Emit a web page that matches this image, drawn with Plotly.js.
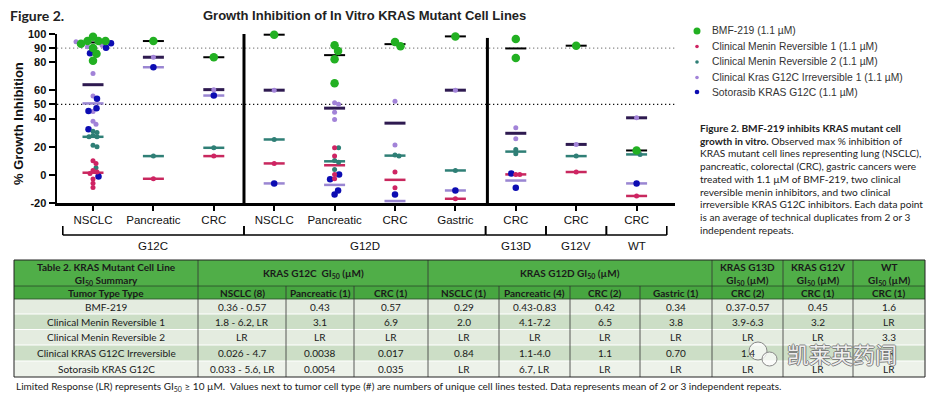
<!DOCTYPE html>
<html><head><meta charset="utf-8">
<script src="https://cdn.plot.ly/plotly-3.0.1.min.js"></script>
<style>html,body{margin:0;padding:0;background:#fff;}</style>
</head><body><div id="chart" style="width:929px;height:396px;"></div>
<script>
// ---------------- DATA ----------------
const categories = ['NSCLC','Pancreatic','CRC','NSCLC','Pancreatic','CRC','Gastric','CRC','CRC','CRC'];
const mutationGroups = ['G12C','G12D','G13D','G12V','WT'];
const groupFirstCat = [0,3,7,8,9];
const groupLastCat  = [2,6,7,8,9];
const yTicks = [-20,0,20,40,50,60,80,90,100];
const thresholdLines = [90,50];
const seriesNames = ['BMF-219 (1.1 µM)','Clinical Menin Reversible 1 (1.1 µM)','Clinical Menin Reversible 2 (1.1 µM)','Clinical Kras G12C Irreversible 1 (1.1 µM)','Sotorasib KRAS G12C (1.1 µM)'];
// % growth inhibition, one list per category column
const bmf219    = [[98,95,95,95,93,90,86,81],[95],[83.5],[99.5],[92,88,82,65],[94.3,91.3],[98.3],[96.5,83],[91.7],[17.3]];
const meninRev1 = [[10,8,3,2,1,-3,-6,-9],[-2.8],[13.3],[8.1],[19.2,13.3,0.3,-2.8],[2.0,-9.1],[-17],[0.3,0.3],[2.0],[-15]];
const meninRev2 = [[31,30,28,27,27,21,20,5],[13.3],[19.2],[25.1],[19.2,10.2,9.0,3.8],[14,13.3],[3.1],[18,15],[13.3],[14.5]];
const krasIrrev = [[94.5,92,91,72,56,45,38,36],[83.5],[60.5],[60.1],[51.1,50.2,44.5,39.3],[52.3,21.1],[60.1],[33.4,25.6],[21.6],[40.5]];
const sotorasib = [[93.4,90.3,86.3,54.1,47.3,45.4,32.4,-1.1],[76.4],[56.3],[-6.1],[0.3,-3.2,-13.9,-11.1],[-13.9,-23.3],[-11.1],[1.0,-9.1],[],[-6.1]];

// Table 2
const tableTitle = 'Table 2. KRAS Mutant Cell Line<br>GI<sub>50</sub> Summary';
const tableGroupHeaders = ['KRAS G12C  GI<sub>50</sub> (µM)','KRAS G12D GI<sub>50</sub> (µM)','KRAS G13D<br>GI<sub>50</sub> (µM)','KRAS G12V<br>GI<sub>50</sub> (µM)','WT<br>GI<sub>50</sub> (µM)'];
const tableSubHeaders = ['Tumor Type Type','NSCLC (8)','Pancreatic (1)','CRC (1)','NSCLC (1)','Pancreatic (4)','CRC (2)','Gastric (1)','CRC (2)','CRC (1)','CRC (1)'];
const tableRowLabels = ['BMF-219','Clinical Menin Reversible 1','Clinical Menin Reversible 2','Clinical KRAS G12C Irreversible','Sotorasib KRAS G12C'];
const tableValues = [
  ['0.36 - 0.57','0.43','0.57','0.29','0.43-0.83','0.42','0.34','0.37-0.57','0.45','1.6'],
  ['1.8 - 6.2, LR','3.1','6.9','2.0','4.1-7.2','6.5','3.8','3.9-6.3','3.2','LR'],
  ['LR','LR','LR','LR','LR','LR','LR','LR','LR','3.3'],
  ['0.026 - 4.7','0.0038','0.017','0.84','1.1-4.0','1.1','0.70','1.4','LR','LR'],
  ['0.033 - 5.6, LR','0.0054','0.035','LR','6.7, LR','LR','LR','LR','LR','LR']
];
const footnote = 'Limited Response (LR) represents GI<sub>50</sub> ≥ 10 µM.\u00a0 Values next to tumor cell type (#) are numbers of unique cell lines tested. Data represents mean of 2 or 3 independent repeats.';
const captionLines = [
  '<b>Figure 2. BMF-219 inhibits KRAS mutant cell</b>',
  '<b>growth in vitro.</b> Observed max % inhibition of',
  'KRAS mutant cell lines representing lung (NSCLC),',
  'pancreatic, colorectal (CRC), gastric cancers were',
  'treated with 1.1 µM of BMF-219, two clinical',
  'reversible menin inhibitors, and two clinical',
  'irreversible KRAS G12C inhibitors. Each data point',
  'is an average of technical duplicates from 2 or 3',
  'independent repeats.'
];

// ---------------- STYLE / LAYOUT ----------------
const W=929,H=396, ML=57, MR=254, MT=34, MB=193;
const plotW=W-ML-MR, plotH=H-MT-MB;
const xRange=[-0.596,9.636], yRange=[-20,100];
const pxPerX=plotW/(xRange[1]-xRange[0]), pxPerY=plotH/(yRange[1]-yRange[0]);
const ax = px => (px-ML)/plotW;
const ay = py => (H-MB-py)/plotH;
const seriesColors=['#22b022','#cf2463','#2f7f76','#a283d8','#0c0cb2'];
const medianColors=['#000000','#c8285e','#2f7f76','#2e1a50','#9a86d2'];
const medianWidths=[2,2.5,2.5,3,2.5];
const markerDiam=[8.5,5,5,5,6.5];
const legendDiam=[7,3.6,3.6,3.6,4.6];
const allSeries=[bmf219,meninRev1,meninRev2,krasIrrev,sotorasib];
const ARIAL='Liberation Sans, Arial, sans-serif';
const CAL='Lato, Carlito, sans-serif';

function median(a){const s=[...a].sort((p,q)=>p-q);const n=s.length;return n%2?s[(n-1)/2]:(s[n/2-1]+s[n/2])/2;}

// simple deterministic beeswarm per category column
const offsets=allSeries.map(s=>s.map(col=>col.map(()=>0)));
for(let c=0;c<categories.length;c++){
  const placed=[];
  allSeries.forEach((s,si)=>{
    (s[c]||[]).forEach((v,pi)=>{
      const r=markerDiam[si]/2, yp=v*pxPerY;
      let best=0;
      for(let k=0;k<400;k++){
        const cand=k===0?0:(k%2?1:-1)*Math.ceil(k/2)*0.5;
        if(placed.every(p=>Math.hypot(p.x-cand,p.y-yp)>=(p.r+r)*0.78)){best=cand;break;}
      }
      placed.push({x:best,y:yp,r});
      offsets[si][c][pi]=best/pxPerX;
    });
  });
}

const traces=[];
// median lines
allSeries.forEach((s,si)=>{
  const xs=[],ys=[];
  s.forEach((col,c)=>{ if(col.length){xs.push(c);ys.push(median(col));} });
  traces.push({type:'scatter',mode:'markers',x:xs,y:ys,showlegend:false,hoverinfo:'skip',
    cliponaxis: si===4,
    marker:{symbol:'line-ew',size:15,color:medianColors[si],line:{width:medianWidths[si],color:medianColors[si]}}});
});
// points
const drawOrder=[3,4,2,1,0];
drawOrder.forEach(si=>{
  const xs=[],ys=[];
  allSeries[si].forEach((col,c)=>col.forEach((v,pi)=>{xs.push(c+offsets[si][c][pi]);ys.push(v);}));
  traces.push({type:'scatter',mode:'markers',name:seriesNames[si],x:xs,y:ys,showlegend:false,
    cliponaxis: si===4,
    marker:{size:markerDiam[si],color:seriesColors[si],line:{width:0}}});
});

const shapes=[], ann=[];
// threshold dotted lines
thresholdLines.forEach((v,i)=>shapes.push({type:'line',xref:'paper',yref:'y',x0:0,x1:1,y0:v,y1:v,layer:'below',
  line:{color:i===0?'#8a8a8a':'#111',width:1.3,dash:'1.3px,2.7px'}}));
// group dividers
shapes.push({type:'line',xref:'x',yref:'y',x0:2.5,x1:2.5,y0:-20,y1:101.4,line:{color:'#000',width:3}});
shapes.push({type:'line',xref:'x',yref:'y',x0:6.53,x1:6.53,y0:-20,y1:97.2,line:{color:'#000',width:3}});
// group brackets
const brY=235, brTop=226;
groupFirstCat.forEach((a,gi)=>{
  const b=groupLastCat[gi];
  const x0=a-0.5, x1=b+0.5;
  shapes.push({type:'line',xref:'x',yref:'paper',x0:x0,x1:x1,y0:ay(brY),y1:ay(brY),line:{color:'#000',width:1.6}});
  shapes.push({type:'line',xref:'x',yref:'paper',x0:x0,x1:x0,y0:ay(brY),y1:ay(brTop),line:{color:'#000',width:1.6}});
  shapes.push({type:'line',xref:'x',yref:'paper',x0:x1,x1:x1,y0:ay(brY),y1:ay(brTop),line:{color:'#000',width:1.6}});
  ann.push({xref:'x',yref:'paper',x:(a+b)/2,y:ay(246.5),text:mutationGroups[gi],showarrow:false,
    xanchor:'center',yanchor:'middle',font:{family:ARIAL,size:11.5,color:'#111'}});
});

// titles
ann.push({xref:'paper',yref:'paper',x:ax(8),y:ay(15),xanchor:'left',yanchor:'middle',showarrow:false,
  text:'<b>Figure 2.</b>',font:{family:CAL,size:14,color:'#222'}});
ann.push({xref:'paper',yref:'paper',x:ax(364),y:ay(15),xanchor:'center',yanchor:'middle',showarrow:false,
  text:'<b>Growth Inhibition of In Vitro KRAS Mutant Cell Lines</b>',font:{family:ARIAL,size:13,color:'#222'}});
ann.push({xref:'paper',yref:'paper',x:ax(18),y:ay(124),xanchor:'center',yanchor:'middle',showarrow:false,textangle:-90,
  text:'<b>% Growth Inhibition</b>',font:{family:ARIAL,size:13,color:'#111'}});

// legend
const legY=[31,46.5,62,77.5,92];
seriesNames.forEach((n,i)=>{
  const r=legendDiam[i]/2;
  shapes.push({type:'circle',xref:'paper',yref:'paper',xsizemode:'pixel',ysizemode:'pixel',
    xanchor:ax(697),yanchor:ay(legY[i]),x0:-r,x1:r,y0:-r,y1:r,fillcolor:seriesColors[i],line:{width:0}});
  ann.push({xref:'paper',yref:'paper',x:ax(710),y:ay(legY[i]),xanchor:'left',yanchor:'middle',showarrow:false,
    text:n,font:{family:ARIAL,size:10.3,color:'#333'}});
});

// caption
const capY=[128,140.7,153.4,166.1,178.8,191.5,204.2,216.9,229.6];
captionLines.forEach((t,i)=>ann.push({xref:'paper',yref:'paper',x:ax(698),y:ay(capY[i]),xanchor:'left',yanchor:'middle',
  showarrow:false,text:t,font:{family:CAL,size:10.1,color:'#222'}}));

// table geometry
const colEdges=[14,198,286,354,428,499,570,640,712,783,853,925];
const rowEdges=[260,286,299,314,329.5,345,361,377];
const headFill1='#50ae48', headFill2='#47a640';
const bodyFills=['#e4ece0','#ccdec6','#e4ece0','#ccdec6','#edf2ea'];
const groupSpanCols=[[1,3],[4,7],[8,8],[9,9],[10,10]];
const rect=(x0,x1,y0,y1,fill,lc,lw)=>shapes.push({type:'rect',xref:'paper',yref:'paper',x0:ax(x0),x1:ax(x1),y0:ay(y1),y1:ay(y0),
  fillcolor:fill,line:{color:lc||'rgba(0,0,0,0)',width:lw||0}});
rect(colEdges[0],colEdges[11],rowEdges[0],rowEdges[1],headFill1);
rect(colEdges[0],colEdges[11],rowEdges[1],rowEdges[2],headFill2);
bodyFills.forEach((f,r)=>rect(colEdges[0],colEdges[11],rowEdges[r+2],rowEdges[r+3],f));
for(let r=3;r<rowEdges.length-1;r++) shapes.push({type:'line',xref:'paper',yref:'paper',x0:ax(colEdges[0]),x1:ax(colEdges[11]),
  y0:ay(rowEdges[r]),y1:ay(rowEdges[r]),line:{color:'#ffffff',width:1.2}});
[1,2].forEach(r=>shapes.push({type:'line',xref:'paper',yref:'paper',x0:ax(colEdges[0]),x1:ax(colEdges[11]),
  y0:ay(rowEdges[r]),y1:ay(rowEdges[r]),line:{color:'#2a4a2a',width:0.8}}));
const groupEdgeIdx=[1,4,8,9,10];
for(let i=1;i<11;i++){
  const top=groupEdgeIdx.includes(i)?rowEdges[0]:rowEdges[1];
  shapes.push({type:'line',xref:'paper',yref:'paper',x0:ax(colEdges[i]),x1:ax(colEdges[i]),y0:ay(top),y1:ay(rowEdges[7]),
    line:{color:'#333',width:0.8}});
}
rect(colEdges[0],colEdges[11],rowEdges[0],rowEdges[7],'rgba(0,0,0,0)','#222',1);

const cellText=(t,cx,cy,bold)=>ann.push({xref:'paper',yref:'paper',x:ax(cx),y:ay(cy),xanchor:'center',yanchor:'middle',
  showarrow:false,text:bold?'<b>'+t+'</b>':t,font:{family:CAL,size:10,color:'#1a1a1a'}});
cellText(tableTitle,(colEdges[0]+colEdges[1])/2,273.5,true);
tableGroupHeaders.forEach((t,g)=>{const [a,b]=groupSpanCols[g];cellText(t,(colEdges[a]+colEdges[b+1])/2,273.5,true);});
tableSubHeaders.forEach((t,c)=>cellText(t,(colEdges[c]+colEdges[c+1])/2,292.8,true));
tableRowLabels.forEach((lab,r)=>{
  const cy=(rowEdges[r+2]+rowEdges[r+3])/2;
  cellText(lab,(colEdges[0]+colEdges[1])/2,cy,false);
  tableValues[r].forEach((v,c)=>cellText(v,(colEdges[c+1]+colEdges[c+2])/2,cy,false));
});
ann.push({xref:'paper',yref:'paper',x:ax(14),y:ay(386),xanchor:'left',yanchor:'middle',showarrow:false,
  text:footnote,font:{family:CAL,size:10,color:'#1a1a1a'}});

// watermark
shapes.push({type:'circle',xref:'paper',yref:'paper',x0:ax(749),x1:ax(767),y0:ay(360),y1:ay(342),fillcolor:'rgba(255,255,255,0.7)',line:{color:'#888',width:1}});
shapes.push({type:'circle',xref:'paper',yref:'paper',x0:ax(762),x1:ax(777),y0:ay(366),y1:ay(352),fillcolor:'rgba(255,255,255,0.7)',line:{color:'#888',width:1}});
ann.push({xref:'paper',yref:'paper',x:ax(842),y:ay(353),xanchor:'center',yanchor:'middle',showarrow:false,
  text:'凯莱英药闻',font:{family:'Noto Sans CJK SC',size:22,color:'rgba(255,255,255,0.9)',
  shadow:'1px 0 0 #777, -1px 0 0 #777, 0 1px 0 #777, 0 -1px 0 #777'}});

const layout={
  width:W,height:H,margin:{l:ML,r:MR,t:MT,b:MB,pad:0},
  paper_bgcolor:'#fff',plot_bgcolor:'rgba(0,0,0,0)',showlegend:false,
  xaxis:{range:xRange,tickvals:categories.map((_,i)=>i),ticktext:categories,ticks:'outside',ticklen:5,tickwidth:2,
    tickcolor:'#000',showline:true,linewidth:2.5,linecolor:'#000',showgrid:false,zeroline:false,
    tickfont:{family:ARIAL,size:11.5,color:'#111'},fixedrange:true},
  yaxis:{range:yRange,tickvals:yTicks,ticktext:yTicks.map(String),ticks:'outside',ticklen:6,tickwidth:2,
    tickcolor:'#000',showline:true,linewidth:2.5,linecolor:'#000',showgrid:false,zeroline:false,
    tickfont:{family:ARIAL,size:11,color:'#111',weight:'bold'},fixedrange:true},
  shapes:shapes,annotations:ann
};
Plotly.newPlot('chart',traces,layout,{displayModeBar:false,staticPlot:true});
</script></body></html>
